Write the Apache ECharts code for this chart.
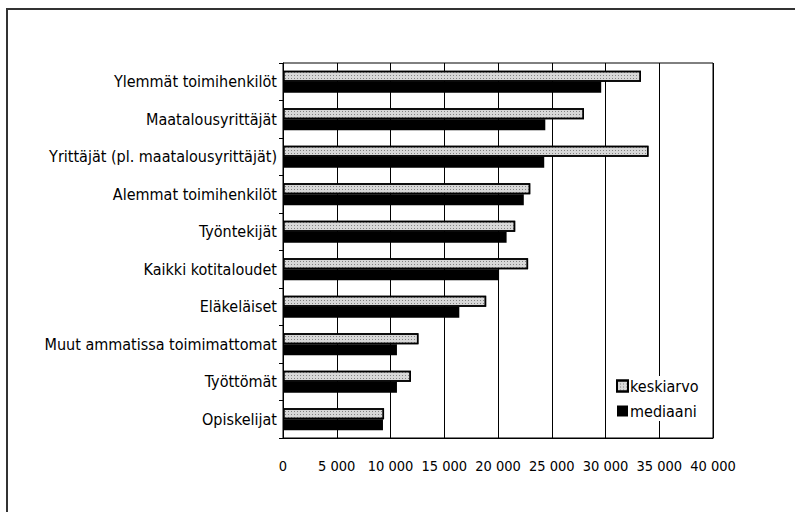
<!DOCTYPE html>
<html>
<head>
<meta charset="utf-8">
<script src="https://cdn.jsdelivr.net/npm/echarts@6/dist/echarts.min.js"></script>
<style>
  html, body { margin: 0; padding: 0; background: #fff; }
  #chart { width: 795px; height: 512px; }
</style>
</head>
<body>
<div id="chart"></div>
<script>
var categories = ['Ylemmät toimihenkilöt', 'Maatalousyrittäjät', 'Yrittäjät (pl. maatalousyrittäjät)', 'Alemmat toimihenkilöt', 'Työntekijät', 'Kaikki kotitaloudet', 'Eläkeläiset', 'Muut ammatissa toimimattomat', 'Työttömät', 'Opiskelijat'];
var keskiarvo = [33300, 28000, 34000, 23000, 21600, 22800, 18900, 12600, 11900, 9400];
var mediaani = [29600, 24400, 24300, 22400, 20800, 20100, 16400, 10600, 10600, 9300];

var font = "'Liberation Sans Narrow', 'DejaVu Sans Condensed', 'Noto Sans', sans-serif";

var chart = echarts.init(document.getElementById('chart'), null, { renderer: 'svg' });
chart.setOption({
  animation: false,
  backgroundColor: '#fff',
  // outer frame: top and left edges only
  graphic: [{
    type: 'polyline',
    shape: { points: [[7, 530], [7, 9], [800, 9]] },
    style: { fill: 'none', stroke: '#333', lineWidth: 2 }
  }],
  grid: { left: 283, right: 82, top: 63, bottom: 74, show: true, borderColor: '#000', borderWidth: 1 },
  legend: {
    orient: 'vertical',
    left: 612, top: 376,
    backgroundColor: '#fff',
    padding: [2, 4, 2, 4],
    itemWidth: 11, itemHeight: 11, itemGap: 9,
    textStyle: { fontFamily: font, fontSize: 16, color: '#000', padding: [0, 0, 0, -3] },
    data: [
      { name: 'keskiarvo', icon: 'rect' },
      { name: 'mediaani', icon: 'rect' }
    ]
  },
  xAxis: {
    type: 'value', min: 0, max: 40000, interval: 5000,
    axisLine: { show: true, lineStyle: { color: '#000' } },
    axisTick: { show: false },
    splitLine: { lineStyle: { color: '#000', width: 1 } },
    axisLabel: {
      margin: 20, fontFamily: font, fontSize: 14.5, color: '#000',
      formatter: function (v) { return String(v).replace(/\B(?=(\d{3})+(?!\d))/g, ' '); }
    }
  },
  yAxis: {
    type: 'category', data: categories, inverse: true,
    axisLine: { lineStyle: { color: '#000' } },
    axisTick: { show: true, length: 4, lineStyle: { color: '#000' } },
    axisLabel: { margin: 6, fontFamily: font, fontSize: 16, color: '#000' }
  },
  series: [
    {
      name: 'keskiarvo', type: 'bar', data: keskiarvo,
      barWidth: 11, barGap: '0%',
      itemStyle: {
        color: '#d8d8d8', borderColor: '#000', borderWidth: 1.5,
        decal: { symbol: 'rect', symbolSize: 1, color: 'rgba(60,60,60,0.55)', dashArrayX: [1, 2], dashArrayY: [1, 2], rotation: 0 }
      }
    },
    {
      name: 'mediaani', type: 'bar', data: mediaani,
      barWidth: 11,
      itemStyle: { color: '#000' }
    }
  ]
});
</script>
</body>
</html>
